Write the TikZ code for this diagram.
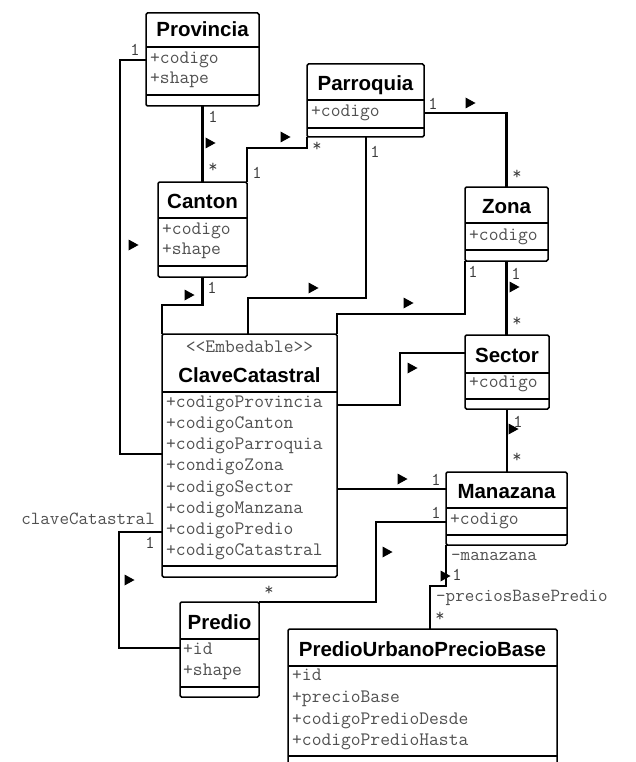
\documentclass[tikz,border=0pt]{standalone}
\usepackage{fontspec}
\setmainfont{Liberation Sans}
\usetikzlibrary{calc}
\definecolor{attrgray}{HTML}{505050}
\definecolor{labgray}{HTML}{3A3A3A}
\tikzset{
  cbox/.style={draw, line width=1.5pt, rounded corners=1.5pt, inner sep=0pt, outer sep=0pt},
  sepl/.style={line width=1.3pt},
  conn/.style={line width=2.5pt, line join=miter},
  ctitle/.style={anchor=base, inner sep=0pt, font=\fontsize{20.5}{24}\selectfont\bfseries},
  cattr/.style={anchor=mid west, inner sep=0pt, text=attrgray, font=\ttfamily\fontsize{19}{21}\selectfont},
  stereo/.style={anchor=mid, inner sep=0pt, text=attrgray, font=\ttfamily\fontsize{19}{21}\selectfont},
  mult/.style={inner sep=0pt, text=labgray, font=\ttfamily\fontsize{18}{20}\selectfont},
  rolel/.style={inner sep=0pt, text=attrgray, font=\ttfamily\fontsize{18.5}{20}\selectfont},
  navarr/.pic={\fill (-4.5,-5.5) -- (5.5,0) -- (-4.5,5.5) -- cycle;}
}
\newcommand\umlbox[7]{%
  \node[cbox, minimum width={(#4-#2)*1pt}, minimum height={(#5-#3)*1pt}] (#1) at ({(#2+#4)/2},{(#3+#5)/2}) {};
  \draw[sepl] (#2,#6) -- (#4,#6) (#2,#7) -- (#4,#7);}
\begin{document}
\begin{tikzpicture}[x=1pt,y=-1pt]
\useasboundingbox[fill=white] (0,0) rectangle (635,762);
\begin{scope}
\clip (0,0) rectangle (635,762);
% ---------- classes ----------
\umlbox{prov}{146}{13}{259}{106}{47}{95}
\umlbox{par}{307}{64}{424}{137}{100}{128}
\umlbox{cant}{158}{182}{247}{277}{218}{266}
\umlbox{zona}{465}{187}{548}{261}{223}{250}
\umlbox{clave}{162}{334}{337}{577}{392}{566}
\umlbox{sect}{465}{335}{549}{409}{373}{399}
\umlbox{man}{446}{472}{567}{545}{508}{535}
\umlbox{pred}{180}{602}{259}{697}{639}{687}
\umlbox{pupb}{288}{629}{557}{775}{666}{756}
% titles
\node[ctitle] (provT) at (202.5,37) {Provincia};
\node[ctitle] (parT) at (365.5,91) {Parroquia};
\node[ctitle] (cantT) at (202.5,208) {Canton};
\node[ctitle] (zonaT) at (506.5,213) {Zona};
\node[stereo] (claveS) at (249.5,350) {<\kern0pt<Embedable>\kern0pt>};
\node[ctitle] (claveT) at (249.5,382) {ClaveCatastral};
\node[ctitle] (sectT) at (507,362) {Sector};
\node[ctitle] (manT) at (506.5,498) {Manazana};
\node[ctitle] (predT) at (219.5,629) {Predio};
\node[ctitle] (pupbT) at (422.5,656) {PredioUrbanoPrecioBase};
% attributes
\node[cattr] (provA1) at (150,61) {+codigo};
\node[cattr] (provA2) at (150,81) {+shape};
\node[cattr] (parA1) at (311,114) {+codigo};
\node[cattr] (cantA1) at (162,232) {+codigo};
\node[cattr] (cantA2) at (162,252) {+shape};
\node[cattr] (zonaA1) at (469,238) {+codigo};
\node[cattr] (clA1) at (166,405) {+codigoProvincia};
\node[cattr] (clA2) at (166,426) {+codigoCanton};
\node[cattr] (clA3) at (166,447) {+codigoParroquia};
\node[cattr] (clA4) at (166,468) {+condigoZona};
\node[cattr] (clA5) at (166,490) {+codigoSector};
\node[cattr] (clA6) at (166,511) {+codigoManzana};
\node[cattr] (clA7) at (166,532) {+codigoPredio};
\node[cattr] (clA8) at (166,553) {+codigoCatastral};
\node[cattr] (sectA1) at (469,385) {+codigo};
\node[cattr] (manA1) at (450,522) {+codigo};
\node[cattr] (predA1) at (183,652) {+id};
\node[cattr] (predA2) at (183,673) {+shape};
\node[cattr] (pupbA1) at (292,678) {+id};
\node[cattr] (pupbA2) at (292,700) {+precioBase};
\node[cattr] (pupbA3) at (292,722) {+codigoPredioDesde};
\node[cattr] (pupbA4) at (292,743) {+codigoPredioHasta};
\end{scope}
% ---------- bend points ----------
\coordinate (bA) at (120,60);
\coordinate (bB) at (400,353);
\coordinate (bC) at (119,532);
\coordinate (bD) at (376,522);
% ---------- connectors ----------
\draw[conn] (prov.south) -- (prov.south |- cant.north);
\draw[conn] ($(prov.north west)+(0,47)$) -- (bA) |- ($(clave.north west)+(0,120)$);
\draw[conn] (cant.north east) -- ++(0,-34) -| (par.south west);
\draw[conn] ($(par.north east)+(0,49)$) -| (zona.north);
\draw[conn] (cant.south) -- ++(0,28) -| (clave.north west);
\draw[conn] ($(par.south west)+(59,0)$) -- ++(0,161) -| ($(clave.north west)+(86,0)$);
\draw[conn] (zona.south west) -- ++(0,53) -| (clave.north east);
\draw[conn] (zona.south) -- (zona.south |- sect.north);
\draw[conn] ($(sect.north west)+(0,18)$) -- (bB) |- ($(clave.north east)+(0,71)$);
\draw[conn] (sect.south) -- (sect.south |- man.north);
\draw[conn] ($(man.north west)+(0,17)$) -- ($(clave.north east)+(0,155)$);
\draw[conn] ($(clave.north west)+(0,198)$) -- (bC) |- ($(pred.north west)+(0,46)$);
\draw[conn] ($(man.north west)+(0,50)$) -- (bD) -- (bD |- pred.north east) -- (pred.north east);
\draw[conn] (man.south west) -- ++(0,41) -| ($(pupb.north west)+(142,0)$);
% ---------- navigation arrows ----------
\foreach \p in {(210,143),(133,245),(285,137),(470,103),(189,295),(313,288),(408,303),(514,287),(412,368),(513,429),(402,479),(129,580),(387,552),(445,576)}
  \pic at \p {navarr};
% ---------- multiplicities ----------
\node[mult] (m1) at (213,117) {1};
\node[mult] (m2) at (213,168) {*};
\node[mult] (m3) at (135,50) {1};
\node[mult] (m4) at (257,173) {1};
\node[mult] (m5) at (317,147) {*};
\node[mult] (m6) at (433,104) {1};
\node[mult] (m7) at (517,175) {*};
\node[mult] (m8) at (212,288) {1};
\node[mult] (m9) at (375,152) {1};
\node[mult] (m10) at (473,272) {1};
\node[mult] (m11) at (516,274) {1};
\node[mult] (m12) at (517,322) {*};
\node[mult] (m13) at (518,422) {1};
\node[mult] (m14) at (517,458) {*};
\node[mult] (m15) at (436,480) {1};
\node[mult] (m16) at (150,543) {1};
\node[mult] (m17) at (436,513) {1};
\node[mult] (m18) at (269,591) {*};
\node[mult] (m19) at (457,575) {1};
\node[mult] (m20) at (440,617) {*};
% roles
\node[rolel, anchor=mid east] (r1) at (155,522) {claveCatastral};
\node[rolel, anchor=mid west] (r2) at (451,558) {-manazana};
\node[rolel, anchor=mid west] (r3) at (436,599) {-preciosBasePredio};
\end{tikzpicture}
\end{document}
